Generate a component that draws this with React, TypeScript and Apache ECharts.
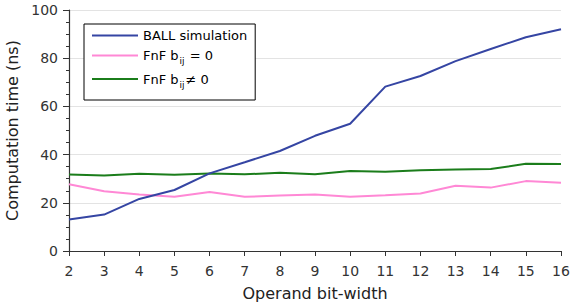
import React, { useEffect, useRef } from "react";
import * as echarts from "echarts";

const bitWidths = [2, 3, 4, 5, 6, 7, 8, 9, 10, 11, 12, 13, 14, 15, 16];
const ballSim = [13.1, 15.1, 21.6, 25.3, 32.2, 36.8, 41.5, 47.8, 52.8, 68.2, 72.6, 78.8, 83.8, 88.7, 92.0];
const fnfZero = [27.7, 24.8, 23.4, 22.5, 24.5, 22.5, 23.0, 23.4, 22.5, 23.1, 23.9, 27.1, 26.3, 29.0, 28.3];
const fnfNonZero = [31.7, 31.3, 32.1, 31.6, 32.2, 31.8, 32.5, 31.8, 33.2, 32.9, 33.5, 33.8, 34.0, 36.2, 36.1];
const seriesNames = ["BALL simulation", "FnF b_ij = 0", "FnF b_ij ≠ 0"];
const colors = ["#3545a3", "#ff88d5", "#1b7d1b"];

const FONT = "DejaVu Sans";

export default function App() {
  const ref = useRef<HTMLDivElement>(null);
  useEffect(() => {
    const chart = echarts.init(ref.current!, null, { renderer: "svg" });
    const mk = (vals: number[]) => bitWidths.map((x, i) => [x, vals[i]]);
    const allData = [ballSim, fnfZero, fnfNonZero];
    chart.setOption({
      animation: false,
      textStyle: { fontFamily: FONT },
      grid: { left: 69, right: 10, top: 10, bottom: 52, outerBoundsMode: "none", containLabel: false },
      legend: {
        orient: "vertical",
        left: 84,
        top: 24,
        backgroundColor: "#fff",
        borderColor: "#000",
        borderWidth: 1,
        borderRadius: 0,
        padding: [5, 8, 11, 8],
        itemWidth: 46,
        itemHeight: 2,
        itemGap: 7,
        icon: "rect",
        data: seriesNames.map((n, i) => ({ name: n, itemStyle: { color: colors[i] } })),
        formatter: (name: string) => {
          if (name === seriesNames[0]) return "{a|BALL simulation}";
          if (name === seriesNames[1]) return "{a|FnF b}{s|ij}{a| = 0}";
          return "{a|FnF b}{s|ij}{a|≠ 0}";
        },
        textStyle: {
          fontFamily: FONT,
          color: "#000",
          rich: {
            a: { fontFamily: FONT, fontSize: 13, color: "#000", height: 18 },
            s: { fontFamily: FONT, fontSize: 9, color: "#000", padding: [11, 1, 0, 1], height: 18 },
          },
        },
      },
      xAxis: {
        type: "value",
        min: 2,
        max: 16,
        interval: 1,
        name: "Operand bit-width",
        nameLocation: "middle",
        nameGap: 34,
        nameTextStyle: { fontFamily: FONT, fontSize: 16, color: "#222" },
        axisLine: { show: true, lineStyle: { color: "#333", width: 1.2 } },
        axisTick: { show: true, length: 5, lineStyle: { color: "#333" } },
        axisLabel: { fontFamily: FONT, fontSize: 14, color: "#333", margin: 13 },
        splitLine: { show: false },
      },
      yAxis: {
        type: "value",
        min: 0,
        max: 100,
        interval: 20,
        name: "Computation time (ns)",
        nameLocation: "middle",
        nameGap: 44,
        nameTextStyle: { fontFamily: FONT, fontSize: 16, color: "#222" },
        axisLine: { show: true, lineStyle: { color: "#333", width: 1.2 } },
        axisTick: { show: true, length: 6, lineStyle: { color: "#333" } },
        minorTick: { show: true, splitNumber: 4, length: 3, lineStyle: { color: "#333" } },
        axisLabel: { fontFamily: FONT, fontSize: 14, color: "#333", margin: 11 },
        splitLine: { show: true, lineStyle: { color: "#e3e3e3", width: 1.2 } },
      },
      series: seriesNames.map((n, i) => ({
        name: n,
        type: "line",
        data: mk(allData[i]),
        showSymbol: false,
        symbol: "none",
        lineStyle: { color: colors[i], width: 2 },
        itemStyle: { color: colors[i] },
        z: 3 - i,
      })),
    });
    return () => chart.dispose();
  }, []);
  return <div ref={ref} style={{ width: 571, height: 303, position: "absolute", left: 0, top: 0 }} />;
}
